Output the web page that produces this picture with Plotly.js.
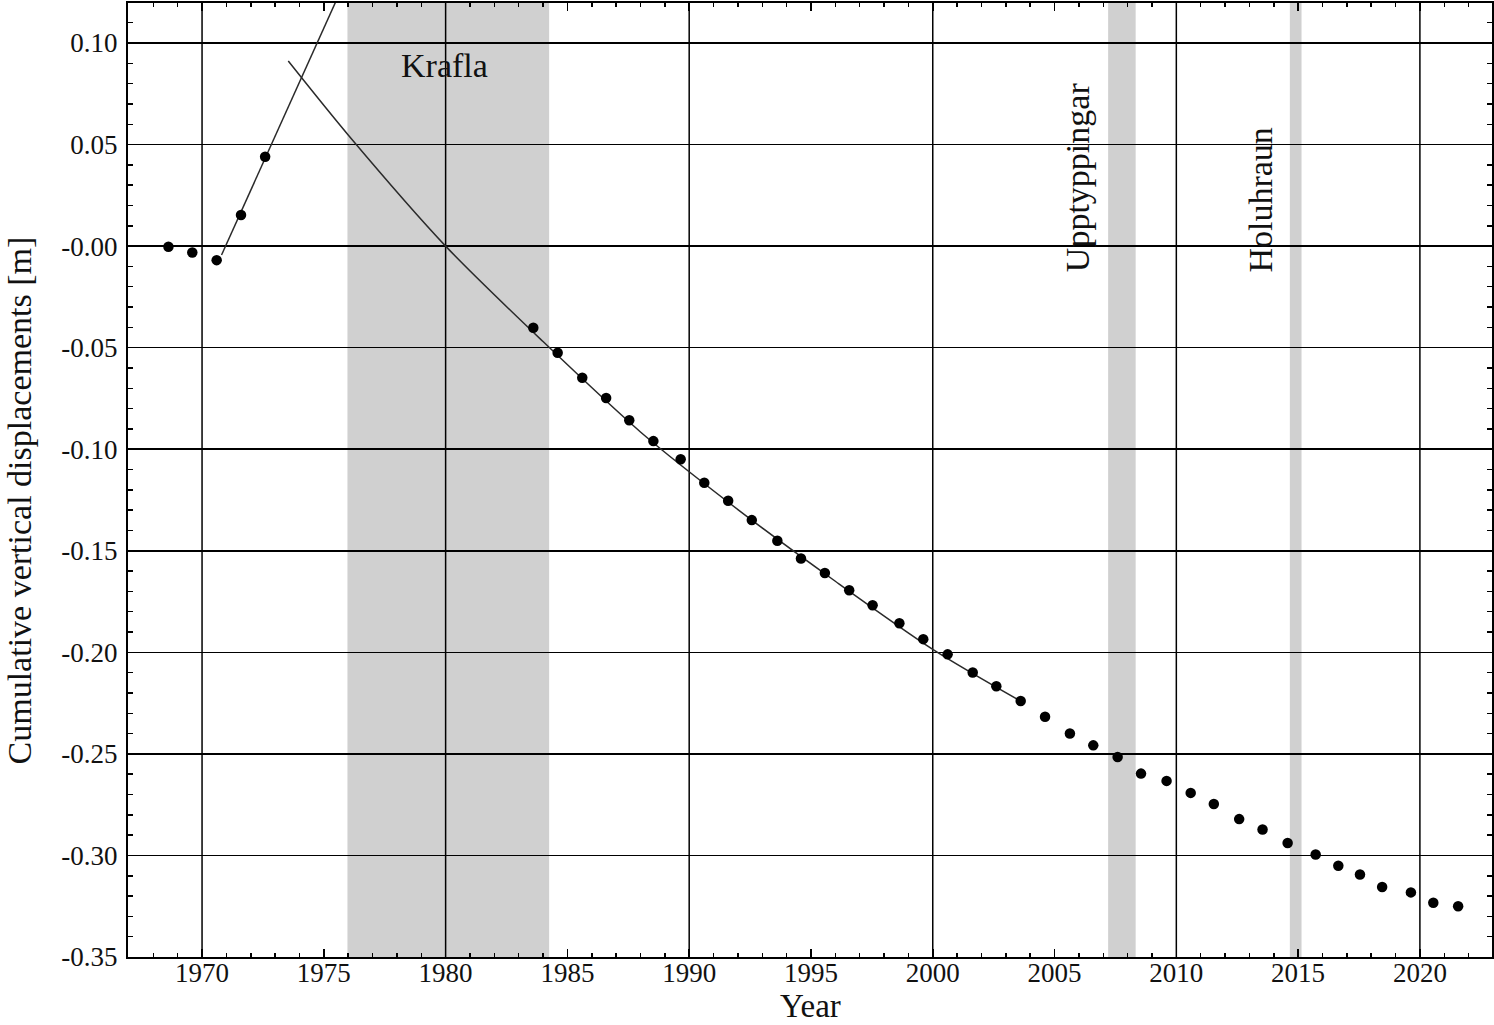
<!DOCTYPE html>
<html>
<head>
<meta charset="utf-8">
<script src="https://cdn.plot.ly/plotly-3.0.1.min.js"></script>
<style>
  html, body { margin: 0; padding: 0; background: #ffffff; }
  #chart { width: 1494px; height: 1025px; }
</style>
</head>
<body>
<div id="chart"></div>
<script>
// ---- Data ----
const surveyYears = [
  1968.62, 1969.60, 1970.60, 1971.60, 1972.59,
  1983.60, 1984.60, 1985.61, 1986.59, 1987.54, 1988.53, 1989.65,
  1990.62, 1991.60, 1992.57, 1993.62, 1994.59, 1995.57, 1996.57,
  1997.53, 1998.63, 1999.61, 2000.61, 2001.64, 2002.61, 2003.61,
  2004.61, 2005.63, 2006.59, 2007.59, 2008.55, 2009.60, 2010.59,
  2011.54, 2012.58, 2013.54, 2014.57, 2015.72, 2016.65, 2017.54,
  2018.45, 2019.63, 2020.55, 2021.57
];
const displacement = [
  -0.0003, -0.0031, -0.0069, 0.0153, 0.0440,
  -0.0402, -0.0525, -0.0648, -0.0748, -0.0857, -0.0960, -0.1049,
  -0.1165, -0.1254, -0.1349, -0.1451, -0.1538, -0.1609, -0.1694,
  -0.1768, -0.1857, -0.1935, -0.2010, -0.2099, -0.2167, -0.2240,
  -0.2317, -0.2400, -0.2458, -0.2515, -0.2597, -0.2633, -0.2692,
  -0.2747, -0.2821, -0.2872, -0.2939, -0.2995, -0.3051, -0.3094,
  -0.3155, -0.3182, -0.3233, -0.3250
];

// Uplift trend before Krafla
const upliftFitYears  = [1970.8, 1975.6];
const upliftFitValues = [-0.0044, 0.1233];

// Subsidence trend after Krafla
const subsidenceFitYears  = [1973.54, 1976, 1980, 1984, 1988, 1992, 1996, 2000, 2003.61];
const subsidenceFitValues = [0.0911, 0.0547, 0.0, -0.0470, -0.0915, -0.1297, -0.1650, -0.1985, -0.2240];

// Volcanic / magmatic events (shaded periods)
const eventNames = ["Krafla", "Upptyppingar", "Holuhraun"];
const eventStart = [1975.97, 2007.20, 2014.66];
const eventEnd   = [1984.25, 2008.33, 2015.14];

// Y tick labels
const yTickVals = [-0.35, -0.30, -0.25, -0.20, -0.15, -0.10, -0.05, 0.00, 0.05, 0.10];
const yTickText = ["-0.35", "-0.30", "-0.25", "-0.20", "-0.15", "-0.10", "-0.05", "-0.00", "0.05", "0.10"];

// Axis titles
const xTitle = "Year";
const yTitle = "Cumulative vertical displacements [m]";

// ---- Styling ----
const SERIF = "Liberation Serif, Times New Roman, serif";
const BAND = "#d0d0d0";

const xRange = [1966.96, 2022.96];
const yRange = [-0.35, 0.1197];

const traces = [
  {
    x: upliftFitYears, y: upliftFitValues, type: "scatter", mode: "lines",
    line: { color: "#2a2a2a", width: 1.5 }, hoverinfo: "skip", showlegend: false
  },
  {
    x: subsidenceFitYears, y: subsidenceFitValues, type: "scatter", mode: "lines",
    line: { color: "#2a2a2a", width: 1.5, shape: "spline", smoothing: 0.8 },
    hoverinfo: "skip", showlegend: false
  },
  {
    x: surveyYears, y: displacement, type: "scatter", mode: "markers",
    marker: { color: "#000000", size: 10.5 }, showlegend: false
  }
];

const shapes = [];
for (let i = 0; i < eventNames.length; i++) {
  shapes.push({
    type: "rect", xref: "x", yref: "paper",
    x0: eventStart[i], x1: eventEnd[i], y0: 0, y1: 1,
    fillcolor: BAND, line: { width: 0 }, layer: "between"
  });
}
// vertical grid lines every 10 years
for (let g = 1970; g <= 2020; g += 10) {
  shapes.push({
    type: "line", xref: "x", yref: "paper", x0: g, x1: g, y0: 0, y1: 1,
    line: { color: "#000000", width: 1.5 }, layer: "between"
  });
}

const titleFont = { family: SERIF, size: 34, color: "#111" };
const annotations = [
  {
    text: eventNames[0], x: 1979.94, y: 0.0887, xref: "x", yref: "y",
    showarrow: false, font: titleFont, xanchor: "center", yanchor: "middle"
  },
  {
    text: eventNames[1], x: 2005.95, y: 0.0338, xref: "x", yref: "y",
    showarrow: false, textangle: -90, font: titleFont, xanchor: "center", yanchor: "middle"
  },
  {
    text: eventNames[2], x: 2013.44, y: 0.0225, xref: "x", yref: "y",
    showarrow: false, textangle: -90, font: titleFont, xanchor: "center", yanchor: "middle"
  },
  {
    text: yTitle, xref: "paper", yref: "paper", x: -0.0796, y: 0.479,
    showarrow: false, textangle: -90, font: titleFont, xanchor: "center", yanchor: "middle"
  },
  {
    text: xTitle, xref: "paper", yref: "paper", x: 0.5, y: -0.051,
    showarrow: false, font: { family: SERIF, size: 33, color: "#111" },
    xanchor: "center", yanchor: "middle", borderpad: 0
  }
];

const layout = {
  width: 1494, height: 1025,
  margin: { l: 128, r: 2, t: 3, b: 68 },
  paper_bgcolor: "#ffffff", plot_bgcolor: "#ffffff",
  showlegend: false,
  font: { family: SERIF, color: "#111" },
  xaxis: {
    range: xRange, tickmode: "linear", tick0: 1970, dtick: 5,
    ticks: "inside", ticklen: 8, tickwidth: 1.5, tickcolor: "#000",
    ticklabelstandoff: -9,
    showgrid: false, zeroline: false,
    showline: true, linecolor: "#000", linewidth: 2, mirror: "ticks",
    tickfont: { family: SERIF, size: 27, color: "#111" },
    minor: { tick0: 1970, dtick: 1, ticks: "inside", ticklen: 4, tickwidth: 1.5, tickcolor: "#000", showgrid: false }
  },
  yaxis: {
    range: yRange, tickmode: "array", tickvals: yTickVals, ticktext: yTickText,
    ticks: "inside", ticklen: 8, tickwidth: 1.5, tickcolor: "#000",
    ticklabelstandoff: 3,
    showgrid: true, gridcolor: "#000", gridwidth: 1.5, zeroline: false,
    showline: true, linecolor: "#000", linewidth: 2, mirror: "ticks",
    tickfont: { family: SERIF, size: 27, color: "#111" },
    minor: { tickmode: "linear", tick0: 0, dtick: 0.01, ticks: "inside", ticklen: 5, tickwidth: 1.5, tickcolor: "#000", showgrid: false }
  },
  shapes: shapes,
  annotations: annotations
};

Plotly.newPlot("chart", traces, layout, { displayModeBar: false, staticPlot: true });
</script>
</body>
</html>
